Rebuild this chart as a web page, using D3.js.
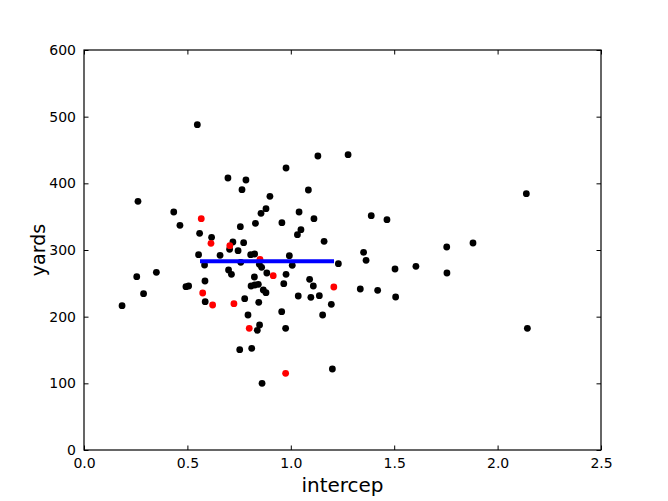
<!DOCTYPE html>
<html>
<head>
<meta charset="utf-8">
<script src="https://cdn.jsdelivr.net/npm/d3@7"></script>
<style>
  html, body { margin: 0; padding: 0; background: #fff; }
  svg { display: block; font-family: "DejaVu Sans", sans-serif; }
</style>
</head>
<body>
<svg id="chart" width="668" height="501"></svg>
<script>
// ---- data ----
const blackX = [0.548, 1.131, 1.277, 0.977, 0.696, 0.783, 0.764, 1.085, 2.139, 0.261,
  0.899, 0.880, 0.856, 0.434, 1.040, 1.112, 1.389, 1.465, 0.464, 0.756,
  0.829, 0.957, 1.049, 1.032, 0.559, 0.617, 0.720, 0.772, 1.161, 0.704,
  0.745, 1.754, 1.881, 1.352, 1.364, 0.554, 0.658, 0.806, 0.825, 0.993,
  1.230, 0.583, 0.758, 0.848, 0.859, 1.007, 0.699, 0.713, 0.884, 0.977,
  0.824, 1.504, 1.605, 1.755, 0.255, 0.350, 1.091, 1.109, 0.585, 0.966,
  0.493, 0.506, 0.808, 0.826, 0.843, 0.867, 0.880, 1.336, 1.420, 0.288,
  1.036, 1.097, 1.138, 1.507, 0.777, 0.586, 0.845, 1.196, 0.184, 1.154,
  0.793, 0.956, 0.849, 0.838, 0.975, 2.144, 0.753, 0.811, 1.201, 0.861];
const blackY = [488, 441, 443, 423, 408, 405, 390.5, 390, 384.5, 373,
  380.5, 362, 355, 357, 357, 347, 351.5, 345.5, 337, 335,
  340, 341, 330.5, 323, 325, 319, 312, 311, 313, 301,
  299, 304.5, 310.5, 296.5, 284.5, 293, 292, 293, 294, 291.5,
  279.5, 277.5, 281.5, 278.5, 274, 277, 270, 263.5, 265.5, 263.5,
  259.5, 271.5, 275.5, 265.5, 260, 266.5, 256, 246, 253.5, 249.5,
  245, 246, 246, 247.5, 248.5, 240, 236, 241.5, 239.5, 234.5,
  231, 229, 231.5, 229.5, 227, 222.5, 221.5, 218.5, 216.5, 202.5,
  202.5, 207.5, 187.5, 179.5, 182.5, 182.5, 150.5, 152.5, 121.5, 100];
const redX = [0.567, 0.614, 0.705, 0.851, 0.915, 1.208, 0.574, 0.622, 0.725, 0.799, 0.975];
const redY = [347, 310, 306.5, 286, 261.5, 244.5, 235.5, 217.5, 219.5, 182.5, 115];
const lineX = [0.561, 1.209];
const lineY = [283, 283];
const xTicks = [0, 0.5, 1.0, 1.5, 2.0, 2.5];
const yTicks = [0, 100, 200, 300, 400, 500, 600];
const xLabel = "intercep";
const yLabel = "yards";

// ---- drawing ----
const svg = d3.select("#chart");
const L = 84, R = 601, T = 50, B = 450;
const x = d3.scaleLinear().domain([0, 2.5]).range([L, R]);
const y = d3.scaleLinear().domain([0, 600]).range([B, T]);

const plot = svg.append("g");

const black = blackX.map((v, i) => [v, blackY[i]]);
const red = redX.map((v, i) => [v, redY[i]]);

plot.selectAll("circle.b").data(black).enter().append("circle")
  .attr("class", "b")
  .attr("cx", d => x(d[0])).attr("cy", d => y(d[1]))
  .attr("r", 3.4).attr("fill", "#000");

plot.selectAll("circle.r").data(red).enter().append("circle")
  .attr("class", "r")
  .attr("cx", d => x(d[0])).attr("cy", d => y(d[1]))
  .attr("r", 3.4).attr("fill", "#ff0000");

const lineData = lineX.map((v, i) => [v, lineY[i]]);
plot.append("path")
  .datum(lineData)
  .attr("d", d3.line().x(d => x(d[0])).y(d => y(d[1])))
  .attr("stroke", "#0000ff").attr("stroke-width", 4).attr("fill", "none");

// axes (ticks inward on all sides)
const tickLen = 4.5;
const fmtX = d3.format(".1f");
const axB = d3.axisBottom(x).tickValues(xTicks).tickSizeInner(-tickLen).tickSizeOuter(0).tickPadding(8).tickFormat(fmtX);
const axT = d3.axisTop(x).tickValues(xTicks).tickSizeInner(-tickLen).tickSizeOuter(0).tickFormat("");
const axL = d3.axisLeft(y).tickValues(yTicks).tickSizeInner(-tickLen).tickSizeOuter(0).tickPadding(8).tickFormat(d3.format("d"));
const axR = d3.axisRight(y).tickValues(yTicks).tickSizeInner(-tickLen).tickSizeOuter(0).tickFormat("");

function style(g) {
  g.select(".domain").remove();
  g.selectAll(".tick line").attr("stroke", "#000").attr("stroke-width", 1);
  g.selectAll(".tick text").attr("fill", "#000").style("font-size", "14px").style("font-family", "DejaVu Sans");
}
svg.append("g").attr("transform", `translate(0,${B})`).call(axB).call(style);
svg.append("g").attr("transform", `translate(0,${T})`).call(axT).call(style);
svg.append("g").attr("transform", `translate(${L},0)`).call(axL).call(style);
svg.append("g").attr("transform", `translate(${R},0)`).call(axR).call(style);

svg.append("rect")
  .attr("x", L).attr("y", T).attr("width", R - L).attr("height", B - T)
  .attr("fill", "none").attr("stroke", "#000").attr("stroke-width", 1.2);

svg.append("text")
  .attr("x", (L + R) / 2).attr("y", 491.5)
  .attr("text-anchor", "middle")
  .style("font-size", "20px")
  .text(xLabel);

svg.append("text")
  .attr("transform", `translate(45,${(T + B) / 2}) rotate(-90)`)
  .attr("text-anchor", "middle")
  .style("font-size", "19px")
  .text(yLabel);
</script>
</body>
</html>
